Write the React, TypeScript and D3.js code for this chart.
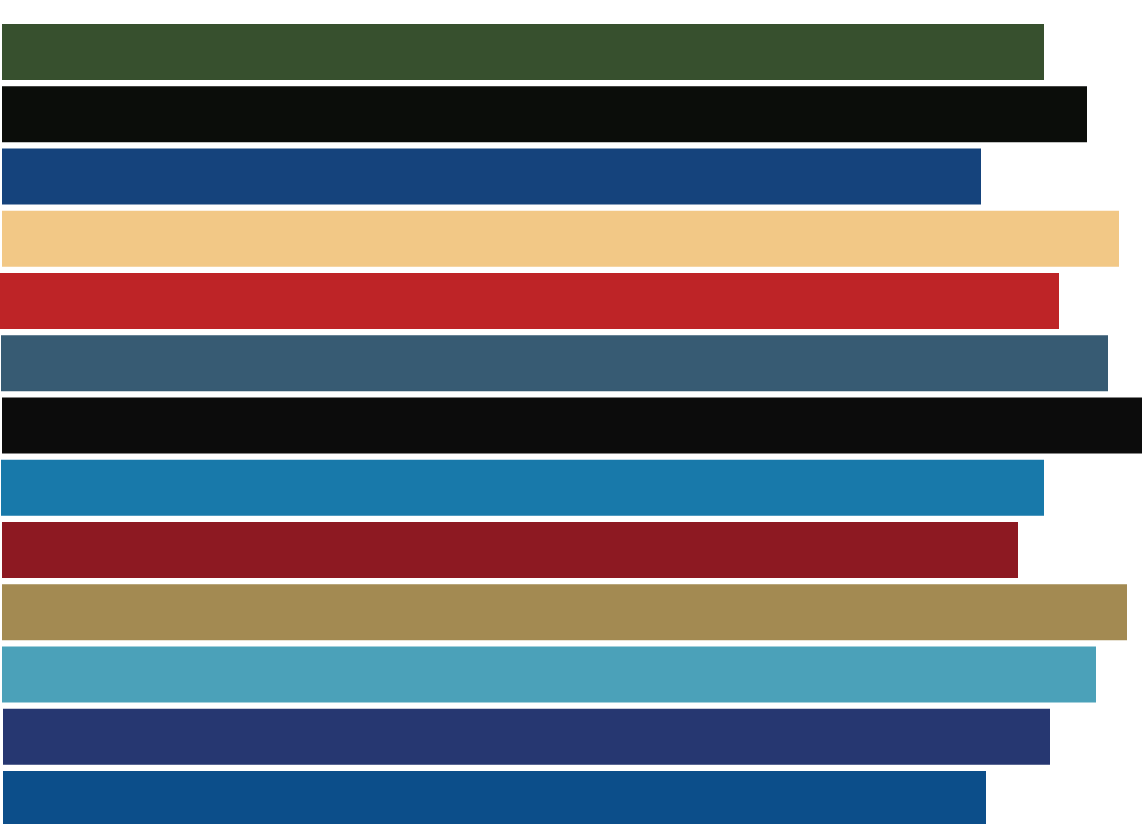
import React from "react";
import * as d3 from "d3";

const categories = ["A", "B", "C", "D", "E", "F", "G", "H", "I", "J", "K", "L", "M"];
const startValues = [2, 2, 2, 2, 0, 1, 2, 1, 2, 2, 2, 3, 3];
const endValues = [1044, 1087, 981, 1119, 1059, 1108, 1150, 1044, 1018, 1127, 1096, 1050, 986];
const colors = [
  "#37502e", "#0b0d0a", "#15437c", "#f2c886", "#be2427", "#375b73", "#0c0c0c",
  "#1879aa", "#8d1922", "#a38a52", "#4ba1b9", "#263771", "#0c4e8a",
];

const W = 1142;
const H = 824;

export default function App() {
  const step = 62.25;
  const pIn = 6.25 / step;
  const pOut = pIn / 2;
  const y0 = 24 - pOut * step;
  const y = d3
    .scaleBand<string>()
    .domain(categories)
    .range([y0, y0 + categories.length * step])
    .paddingInner(pIn)
    .paddingOuter(pOut);
  const x = d3.scaleLinear().domain([0, 1142]).range([0, 1142]);

  return (
    <svg
      width={W}
      height={H}
      style={{ position: "absolute", left: 0, top: 0, display: "block", background: "#fff" }}
    >
      {categories.map((c, i) => (
        <rect
          key={c}
          x={x(startValues[i])}
          y={y(c)}
          width={x(endValues[i]) - x(startValues[i])}
          height={y.bandwidth()}
          fill={colors[i]}
        />
      ))}
    </svg>
  );
}
